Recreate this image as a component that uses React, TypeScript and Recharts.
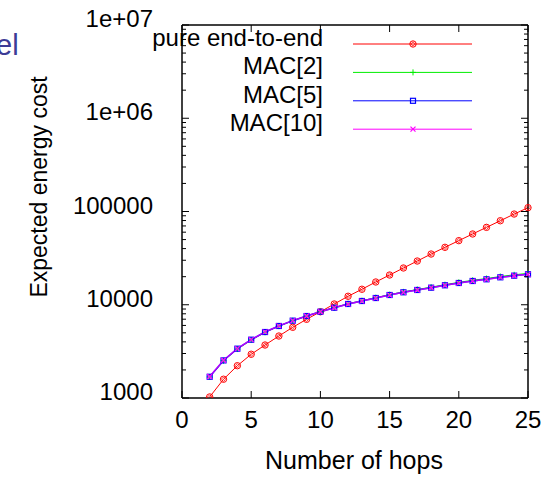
import React from "react";
import { LineChart, Line, XAxis, YAxis, Legend } from "recharts";

// values (log y axis)
const hops = [2, 3, 4, 5, 6, 7, 8, 9, 10, 11, 12, 13, 14, 15, 16, 17, 18, 19, 20, 21, 22, 23, 24, 25];
const pureEndToEnd = [
  1026, 1590, 2220, 2945, 3700, 4620, 5730, 6980, 8410, 10190, 12330, 14660,
  17540, 20840, 24790, 29440, 34990, 41300, 48700, 57400, 67600, 79600, 93900, 109900,
];
const mac2 = [
  1680, 2510, 3350, 4190, 5070, 5900, 6740, 7570, 8430, 9320, 10240, 11040,
  11900, 12830, 13740, 14570, 15440, 16400, 17380, 18290, 19100, 20080, 20940, 21720,
];
const mac5 = [
  1690, 2530, 3380, 4220, 5100, 5920, 6750, 7570, 8420, 9290, 10190, 10970,
  11810, 12720, 13600, 14400, 15240, 16170, 17110, 17980, 18750, 19690, 20500, 21220,
];
const mac10 = [
  1700, 2540, 3390, 4230, 5110, 5930, 6760, 7580, 8420, 9280, 10170, 10950,
  11790, 12700, 13580, 14380, 15210, 16140, 17080, 17950, 18720, 19650, 20460, 21180,
];

const seriesOrder = ["pure", "mac2", "mac5", "mac10"];
const xTicks = [0, 5, 10, 15, 20, 25];
const yMajorTicks = [1000, 10000, 100000, 1000000, 10000000];
const yTickLabels = ["1000", "10000", "100000", "1e+06", "1e+07"];
const yMinorFactors = [2, 3, 4, 5, 6, 7, 8, 9];

const data = hops.map((h, i) => ({
  hops: h,
  pure: pureEndToEnd[i],
  mac2: mac2[i],
  mac5: mac5[i],
  mac10: mac10[i],
}));

const yTicks = [
  ...yMajorTicks,
  ...yMajorTicks.slice(0, -1).flatMap((m) => yMinorFactors.map((f) => f * m)),
].sort((a, b) => a - b);

const FONT = "'Liberation Sans', Arial, Helvetica, sans-serif";

// ---- markers ----
function diamondCircle(cx: number, cy: number, color: string) {
  return (
    <g>
      <circle cx={cx} cy={cy} r={3.2} fill="none" stroke={color} strokeWidth={1} />
      <path d={`M${cx - 2.2},${cy} L${cx},${cy - 2.2} L${cx + 2.2},${cy} L${cx},${cy + 2.2} Z`} fill="none" stroke={color} strokeWidth={0.8} />
    </g>
  );
}
function plus(cx: number, cy: number, color: string) {
  return (
    <path d={`M${cx - 3},${cy} H${cx + 3} M${cx},${cy - 3} V${cy + 3}`} stroke={color} strokeWidth={1} />
  );
}
function square(cx: number, cy: number, color: string) {
  return <rect x={cx - 2.5} y={cy - 2.5} width={5} height={5} fill="none" stroke={color} strokeWidth={1.2} />;
}
function cross(cx: number, cy: number, color: string) {
  return (
    <path d={`M${cx - 2.5},${cy - 2.5} L${cx + 2.5},${cy + 2.5} M${cx - 2.5},${cy + 2.5} L${cx + 2.5},${cy - 2.5}`} stroke={color} strokeWidth={1.2} />
  );
}

const seriesStyle: Record<string, { color: string; marker: (cx: number, cy: number, c: string) => React.ReactNode }> = {
  pure: { color: "#ff0000", marker: diamondCircle },
  mac2: { color: "#00ee00", marker: plus },
  mac5: { color: "#0000ff", marker: square },
  mac10: { color: "#ff00ff", marker: cross },
};

const makeDot = (key: string) => (props: any) => {
  const { cx, cy, index } = props;
  const s = seriesStyle[key];
  if (cx == null || cy == null) return <g key={`${key}-${index}`} />;
  return <g key={`${key}-${index}`}>{s.marker(cx, cy, s.color)}</g>;
};

// ---- ticks (gnuplot style: inward, mirrored) ----
function LeftTick(props: any) {
  const { x, y, payload } = props;
  const idx = yMajorTicks.indexOf(payload.value);
  const major = idx >= 0;
  return (
    <g>
      <line x1={x} x2={x + (major ? 7 : 4)} y1={y} y2={y} stroke="#000" strokeWidth={1} />
      {major && (
        <text x={x - 29} y={y + 2} textAnchor="end" fontSize={24} fontFamily={FONT} fill="#000">
          {yTickLabels[idx]}
        </text>
      )}
    </g>
  );
}
function RightTick(props: any) {
  const { x, y, payload } = props;
  const major = yMajorTicks.indexOf(payload.value) >= 0;
  return <line x1={x} x2={x - (major ? 7 : 4)} y1={y} y2={y} stroke="#000" strokeWidth={1} />;
}
function BottomTick(props: any) {
  const { x, y, payload } = props;
  return (
    <g>
      <line x1={x} x2={x} y1={y} y2={y - 7} stroke="#000" strokeWidth={1} />
      <text x={x} y={y + 30} textAnchor="middle" fontSize={24} fontFamily={FONT} fill="#000">
        {payload.value}
      </text>
    </g>
  );
}
function TopTick(props: any) {
  const { x, y } = props;
  return <line x1={x} x2={x} y1={y} y2={y + 7} stroke="#000" strokeWidth={1} />;
}

const renderYTitle = () => (
  <text
    x={0}
    y={0}
    transform="translate(47,187) rotate(-90)"
    textAnchor="middle"
    fontSize={23}
    fontFamily={FONT}
    fill="#000"
  >
    Expected energy cost
  </text>
);
const renderXTitle = () => (
  <text x={354} y={469} textAnchor="middle" fontSize={25} fontFamily={FONT} fill="#000">
    Number of hops
  </text>
);

function renderLegend(props: any) {
  const payload = [...(props.payload || [])].sort(
    (a: any, b: any) => seriesOrder.indexOf(a.dataKey) - seriesOrder.indexOf(b.dataKey)
  );
  return (
    <svg width={557} height={150} style={{ display: "block" }}>
      {payload.map((entry: any, i: number) => {
        const s = seriesStyle[entry.dataKey];
        const y = 44 + i * 28.4;
        return (
          <g key={entry.dataKey}>
            <text x={323} y={y + 2} textAnchor="end" fontSize={24} fontFamily={FONT} fill="#000">
              {entry.value}
            </text>
            <line x1={353} x2={472} y1={y} y2={y} stroke={s.color} strokeWidth={1} />
            {s.marker(413, y, s.color)}
          </g>
        );
      })}
    </svg>
  );
}

export default function App() {
  return (
    <div style={{ position: "absolute", left: 0, top: 0, width: 557, height: 477, background: "#fff" }}>
      <div
        style={{
          position: "absolute",
          left: -4,
          top: 28,
          fontFamily: FONT,
          fontSize: 29,
          lineHeight: "34px",
          color: "#3c3c96",
        }}
      >
        el
      </div>
      <LineChart width={557} height={477} data={data} margin={{ top: 0, right: 0, bottom: 0, left: 0 }}>
        <XAxis
          xAxisId="x"
          dataKey="hops"
          type="number"
          domain={[0, 25]}
          ticks={xTicks}
          interval={0}
          height={79}
          tickSize={0}
          tickMargin={0}
          tick={<BottomTick />}
          axisLine={{ stroke: "#000", strokeWidth: 1.5 }}
          tickLine={false}
          label={renderXTitle}
        />
        <XAxis
          xAxisId="xt"
          orientation="top"
          dataKey="hops"
          type="number"
          domain={[0, 25]}
          ticks={xTicks}
          interval={0}
          height={25}
          tickSize={0}
          tickMargin={0}
          tick={<TopTick />}
          axisLine={{ stroke: "#000", strokeWidth: 1.5 }}
          tickLine={false}
        />
        <YAxis
          yAxisId="y"
          scale="log"
          type="number"
          domain={[1000, 10000000]}
          allowDataOverflow
          ticks={yTicks}
          interval={0}
          width={182}
          tickSize={0}
          tickMargin={0}
          tick={<LeftTick />}
          axisLine={{ stroke: "#000", strokeWidth: 1.5 }}
          tickLine={false}
          label={renderYTitle}
        />
        <YAxis
          yAxisId="yr"
          orientation="right"
          scale="log"
          type="number"
          domain={[1000, 10000000]}
          allowDataOverflow
          ticks={yTicks}
          interval={0}
          width={29}
          tickSize={0}
          tickMargin={0}
          tick={<RightTick />}
          axisLine={{ stroke: "#000", strokeWidth: 1.5 }}
          tickLine={false}
        />
        <Legend
          content={renderLegend}
          layout="horizontal"
          verticalAlign="middle"
          align="center"
          wrapperStyle={{ top: 0, left: 0, width: 557, height: 150, margin: 0, padding: 0 }}
        />
        <Line xAxisId="x" yAxisId="y" dataKey="pure" name="pure end-to-end" stroke="#ff0000" strokeWidth={1} dot={makeDot("pure")} activeDot={false} isAnimationActive={false} />
        <Line xAxisId="x" yAxisId="y" dataKey="mac2" name="MAC[2]" stroke="#00ee00" strokeWidth={1} dot={makeDot("mac2")} activeDot={false} isAnimationActive={false} />
        <Line xAxisId="x" yAxisId="y" dataKey="mac5" name="MAC[5]" stroke="#0000ff" strokeWidth={1.5} dot={makeDot("mac5")} activeDot={false} isAnimationActive={false} />
        <Line xAxisId="x" yAxisId="y" dataKey="mac10" name="MAC[10]" stroke="#ff00ff" strokeWidth={1.5} strokeOpacity={0.7} dot={makeDot("mac10")} activeDot={false} isAnimationActive={false} />
      </LineChart>
    </div>
  );
}
